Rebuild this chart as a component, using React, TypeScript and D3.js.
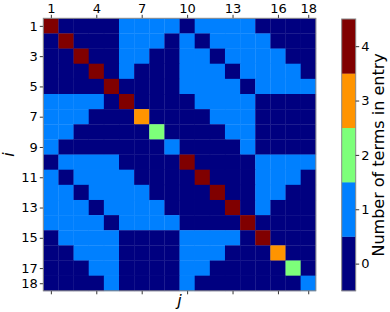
import {useEffect, useRef} from "react";
import * as d3 from "d3";

// number of terms in each entry (i = row, j = column)
const matrix: number[][] = [
  [4,0,0,0,0,1,1,1,1,0,1,1,1,1,0,0,0,0],
  [0,4,0,0,0,1,1,1,0,1,0,1,1,1,1,0,0,0],
  [0,0,4,0,0,1,1,0,0,1,1,0,1,1,1,1,0,0],
  [0,0,0,4,0,1,0,0,0,1,1,1,0,1,1,1,1,0],
  [0,0,0,0,4,0,0,0,0,1,1,1,1,0,1,1,1,1],
  [1,1,1,1,0,4,0,0,0,0,1,1,1,1,0,0,0,0],
  [1,1,1,0,0,0,3,0,0,0,0,1,1,1,0,0,0,0],
  [1,1,0,0,0,0,0,2,0,0,0,0,1,1,0,0,0,0],
  [1,0,0,0,0,0,0,0,1,0,0,0,0,1,0,0,0,0],
  [0,1,1,1,1,0,0,0,0,4,0,0,0,0,1,1,1,1],
  [1,0,1,1,1,1,0,0,0,0,4,0,0,0,1,1,1,0],
  [1,1,0,1,1,1,1,0,0,0,0,4,0,0,1,1,0,0],
  [1,1,1,0,1,1,1,1,0,0,0,0,4,0,1,0,0,0],
  [1,1,1,1,0,1,1,1,1,0,0,0,0,4,0,0,0,0],
  [0,1,1,1,1,0,0,0,0,1,1,1,1,0,4,0,0,0],
  [0,0,1,1,1,0,0,0,0,1,1,1,0,0,0,3,0,0],
  [0,0,0,1,1,0,0,0,0,1,1,0,0,0,0,0,2,0],
  [0,0,0,0,1,0,0,0,0,1,0,0,0,0,0,0,0,1],
];
const xTicks = [1, 4, 7, 10, 13, 16, 18];
const yTicks = [1, 3, 5, 7, 9, 11, 13, 15, 17, 18];
const levels = [0, 1, 2, 3, 4];
const levelColors = ["#000080", "#0080ff", "#7dff7a", "#ff9400", "#800000"];

export default function App() {
  const svgRef = useRef<SVGSVGElement | null>(null);

  useEffect(() => {
    const svg = d3.select(svgRef.current);
    svg.selectAll("*").remove();
    const font = "DejaVu Sans, sans-serif";
    const n = matrix.length;
    const left = 43.3, top = 18.3, size = 272.5;

    const x = d3.scaleLinear().domain([0.5, n + 0.5]).range([left, left + size]);
    const y = d3.scaleLinear().domain([0.5, n + 0.5]).range([top, top + size]);
    const color = d3.scaleOrdinal<number, string>().domain(levels).range(levelColors);

    const cells = matrix.flatMap((row, i) => row.map((v, j) => ({i: i + 1, j: j + 1, v})));
    svg.append("g").selectAll("rect")
      .data(cells)
      .enter().append("rect")
      .attr("x", d => x(d.j - 0.5))
      .attr("y", d => y(d.i - 0.5))
      .attr("width", x(1.5) - x(0.5) + 0.3)
      .attr("height", y(1.5) - y(0.5) + 0.3)
      .attr("fill", d => color(d.v));

    // top axis with labels
    const topAxis = svg.append("g")
      .attr("transform", `translate(0,${top})`)
      .call(d3.axisTop(x).tickValues(xTicks).tickSize(3.5).tickPadding(2).tickFormat(d3.format("d")));
    // bottom ticks only
    const bottomAxis = svg.append("g")
      .attr("transform", `translate(0,${top + size})`)
      .call(d3.axisBottom(x).tickValues(xTicks).tickSize(3.5).tickFormat(() => ""));
    const leftAxis = svg.append("g")
      .attr("transform", `translate(${left},0)`)
      .call(d3.axisLeft(y).tickValues(yTicks).tickSize(3.5).tickPadding(2).tickFormat(d3.format("d")));
    [topAxis, bottomAxis, leftAxis].forEach(g => {
      g.select(".domain").remove();
      g.selectAll("text").attr("font-family", font).attr("font-size", 13).attr("fill", "#000");
      g.selectAll("line").attr("stroke", "#000").attr("stroke-width", 0.8);
    });

    svg.append("rect")
      .attr("x", left).attr("y", top)
      .attr("width", size).attr("height", size)
      .attr("fill", "none").attr("stroke", "#888").attr("stroke-width", 1);

    svg.append("text")
      .attr("transform", `translate(14,${top + size / 2}) rotate(-90)`)
      .attr("text-anchor", "middle")
      .attr("font-family", font).attr("font-size", 16).attr("font-style", "italic")
      .text("i");
    svg.append("text")
      .attr("x", left + size / 2).attr("y", 306)
      .attr("text-anchor", "middle")
      .attr("font-family", font).attr("font-size", 16).attr("font-style", "italic")
      .text("j");

    // colorbar
    const cbX = 341.7, cbW = 14;
    const cy = d3.scaleLinear().domain([-0.5, 4.5]).range([top + size, top + 0.7]);
    svg.append("g").selectAll("rect")
      .data(levels)
      .enter().append("rect")
      .attr("x", cbX)
      .attr("y", d => cy(d + 0.5))
      .attr("width", cbW)
      .attr("height", d => cy(d - 0.5) - cy(d + 0.5) + 0.3)
      .attr("fill", d => color(d));
    svg.append("rect")
      .attr("x", cbX).attr("y", cy(4.5))
      .attr("width", cbW).attr("height", cy(-0.5) - cy(4.5))
      .attr("fill", "none").attr("stroke", "#888").attr("stroke-width", 1);
    const cbAxis = svg.append("g")
      .attr("transform", `translate(${cbX + cbW},0)`)
      .call(d3.axisRight(cy).tickValues(levels).tickSize(3.5).tickPadding(2).tickFormat(d3.format("d")));
    cbAxis.select(".domain").remove();
    cbAxis.selectAll("text").attr("font-family", font).attr("font-size", 13).attr("fill", "#000");
    cbAxis.selectAll("line").attr("stroke", "#000").attr("stroke-width", 0.8);

    svg.append("text")
      .attr("transform", `translate(384,${cy(2)}) rotate(-90)`)
      .attr("text-anchor", "middle")
      .attr("font-family", font).attr("font-size", 16)
      .text("Number of terms in entry");
  }, []);

  return (
    <svg ref={svgRef} width={390} height={312}
         style={{position: "absolute", left: 0, top: 0, background: "#fff"}} />
  );
}
